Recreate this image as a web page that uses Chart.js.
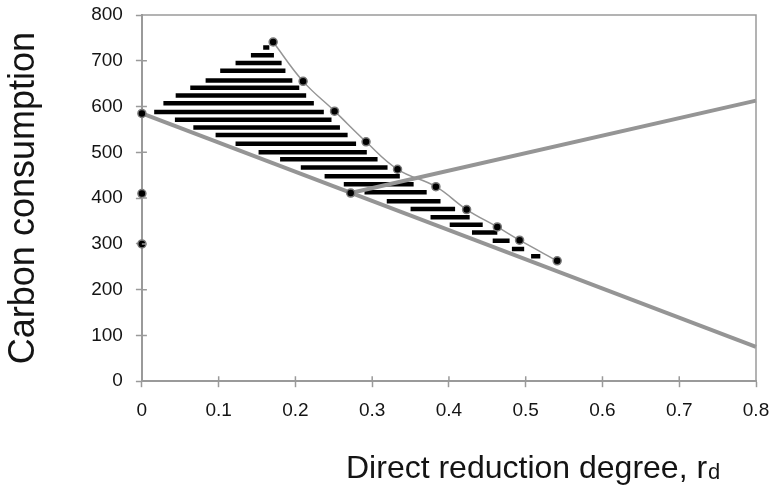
<!DOCTYPE html>
<html>
<head>
<meta charset="utf-8">
<script src="https://cdn.jsdelivr.net/npm/chart.js@4.4.0/dist/chart.umd.min.js"></script>
<style>
  html, body { margin: 0; padding: 0; background: #fff; }
  #wrap { width: 777px; height: 488px; }
</style>
</head>
<body>
<div id="wrap"><canvas id="carbonChart" width="777" height="488"></canvas></div>
<script>
// tick labels
var xTicks = [0, 0.1, 0.2, 0.3, 0.4, 0.5, 0.6, 0.7, 0.8];
var yTicks = [0, 100, 200, 300, 400, 500, 600, 700, 800];

// smoothed curve with markers
var curveX = [0.171, 0.210, 0.251, 0.292, 0.333, 0.383, 0.423, 0.463, 0.492, 0.541];
var curveY = [741, 655, 590, 523, 463, 425, 375, 337, 308, 263];

// markers on the y axis and at the line junction
var dotX = [0, 0, 0, 0.272];
var dotY = [585, 410, 300, 411];

// the two thick straight lines
var lowerX = [0, 0.8];
var lowerY = [585, 75];
var upperX = [0.272, 0.8];
var upperY = [411, 613];

// hatch bars filling the region
var hatchY = [729, 712, 695, 678, 657, 641, 624, 607, 588, 571, 554, 538, 519, 500, 485, 467, 448, 430, 413, 393, 376, 358, 342, 325, 307, 289, 273];
var hatchStart = [0.158, 0.142, 0.122, 0.102, 0.083, 0.063, 0.044, 0.028, 0.016, 0.043, 0.067, 0.096, 0.122, 0.152, 0.180, 0.207, 0.238, 0.263, 0.290, 0.319, 0.350, 0.376, 0.401, 0.430, 0.457, 0.482, 0.507];
var hatchEnd = [0.166, 0.172, 0.182, 0.187, 0.196, 0.205, 0.214, 0.224, 0.237, 0.247, 0.258, 0.268, 0.279, 0.293, 0.307, 0.320, 0.336, 0.354, 0.371, 0.389, 0.408, 0.427, 0.444, 0.463, 0.479, 0.498, 0.519];

var axisGrey = '#9a9a9a';
var lineGrey = '#959595';
var textColor = '#141414';
var fontName = '"Liberation Sans", Arial, sans-serif';

function pts(xs, ys) {
    return xs.map(function (x, i) { return { x: x, y: ys[i] }; });
}

var datasets = [];

datasets.push({
    label: 'markers',
    data: pts(curveX, curveY),
    showLine: true,
    tension: 0.4,
    borderColor: lineGrey,
    borderWidth: 1.5,
    pointRadius: 4,
    pointBackgroundColor: '#000',
    pointBorderColor: '#7a7a7a',
    pointBorderWidth: 1.5,
    clip: false,
    order: 0
});
datasets.push({
    label: 'axis dots',
    data: pts(dotX, dotY),
    showLine: false,
    pointRadius: 4,
    pointBackgroundColor: '#000',
    pointBorderColor: '#7a7a7a',
    pointBorderWidth: 1.5,
    clip: false,
    order: 0
});
datasets.push({
    label: 'lower',
    data: pts(lowerX, lowerY),
    showLine: true,
    borderColor: lineGrey,
    borderWidth: 4,
    pointRadius: 0,
    clip: false,
    order: 1
});
datasets.push({
    label: 'upper',
    data: pts(upperX, upperY),
    showLine: true,
    borderColor: lineGrey,
    borderWidth: 4,
    pointRadius: 0,
    clip: false,
    order: 1
});
hatchY.forEach(function (y, i) {
    datasets.push({
        label: 'hatch' + i,
        data: [{ x: hatchStart[i], y: y }, { x: hatchEnd[i], y: y }],
        showLine: true,
        borderColor: '#000',
        borderWidth: 4.5,
        borderCapStyle: 'butt',
        pointRadius: 0,
        order: 2
    });
});

// top/right frame, inner tick halves and the x title with subscript
var framePlugin = {
    id: 'frame',
    afterDraw: function (chart) {
        var ctx = chart.ctx;
        var a = chart.chartArea;
        var xs = chart.scales.x, ys = chart.scales.y;
        ctx.save();
        ctx.strokeStyle = axisGrey;
        ctx.lineWidth = 1.5;
        ctx.beginPath();
        ctx.moveTo(a.left, a.top);
        ctx.lineTo(a.right, a.top);
        ctx.lineTo(a.right, a.bottom);
        xTicks.forEach(function (v) {
            var px = xs.getPixelForValue(v);
            ctx.moveTo(px, a.bottom);
            ctx.lineTo(px, a.bottom - 5);
        });
        yTicks.forEach(function (v) {
            var py = ys.getPixelForValue(v);
            ctx.moveTo(a.left, py);
            ctx.lineTo(a.left + 5, py);
        });
        ctx.stroke();

        ctx.fillStyle = textColor;
        ctx.textBaseline = 'alphabetic';
        ctx.textAlign = 'left';
        ctx.font = '32px ' + fontName;
        var main = 'Direct reduction degree, r';
        var w = ctx.measureText(main).width;
        var left = 346;
        ctx.fillText(main, left, 478);
        ctx.font = '22px ' + fontName;
        ctx.fillText('d', left + w + 1, 479);
        ctx.restore();
    }
};

function noOverflow(scale) {
    scale.paddingTop = 0;
    scale.paddingBottom = 0;
    scale.paddingLeft = 0;
    scale.paddingRight = 0;
}

var ctx = document.getElementById('carbonChart').getContext('2d');
var carbonChart = new Chart(ctx, {
    type: 'scatter',
    data: { datasets: datasets },
    plugins: [framePlugin],
    options: {
        responsive: false,
        animation: false,
        layout: {
            padding: { left: 0, right: 21, top: 15, bottom: 54 }
        },
        scales: {
            x: {
                type: 'linear',
                min: 0,
                max: 0.8,
                afterBuildTicks: function (scale) {
                    scale.ticks = xTicks.map(function (v) { return { value: v }; });
                },
                afterFit: noOverflow,
                ticks: {
                    color: textColor,
                    font: { family: fontName, size: 19 },
                    padding: 12,
                    maxRotation: 0,
                    callback: function (v) { return String(Math.round(v * 10) / 10); }
                },
                grid: {
                    drawOnChartArea: false,
                    drawTicks: true,
                    tickLength: 6,
                    tickWidth: 1.5,
                    color: axisGrey
                },
                border: { display: true, color: axisGrey, width: 2 }
            },
            y: {
                type: 'linear',
                min: 0,
                max: 800,
                afterBuildTicks: function (scale) {
                    scale.ticks = yTicks.map(function (v) { return { value: v }; });
                },
                afterFit: noOverflow,
                ticks: {
                    color: textColor,
                    font: { family: fontName, size: 19 },
                    padding: 13
                },
                grid: {
                    drawOnChartArea: false,
                    drawTicks: true,
                    tickLength: 6,
                    tickWidth: 1.5,
                    color: axisGrey
                },
                border: { display: true, color: axisGrey, width: 2 },
                title: {
                    display: true,
                    text: 'Carbon consumption',
                    color: textColor,
                    font: { family: fontName, size: 36 },
                    padding: { top: 2, bottom: 33 }
                }
            }
        },
        plugins: {
            legend: { display: false },
            tooltip: { enabled: false }
        }
    }
});
</script>
</body>
</html>
